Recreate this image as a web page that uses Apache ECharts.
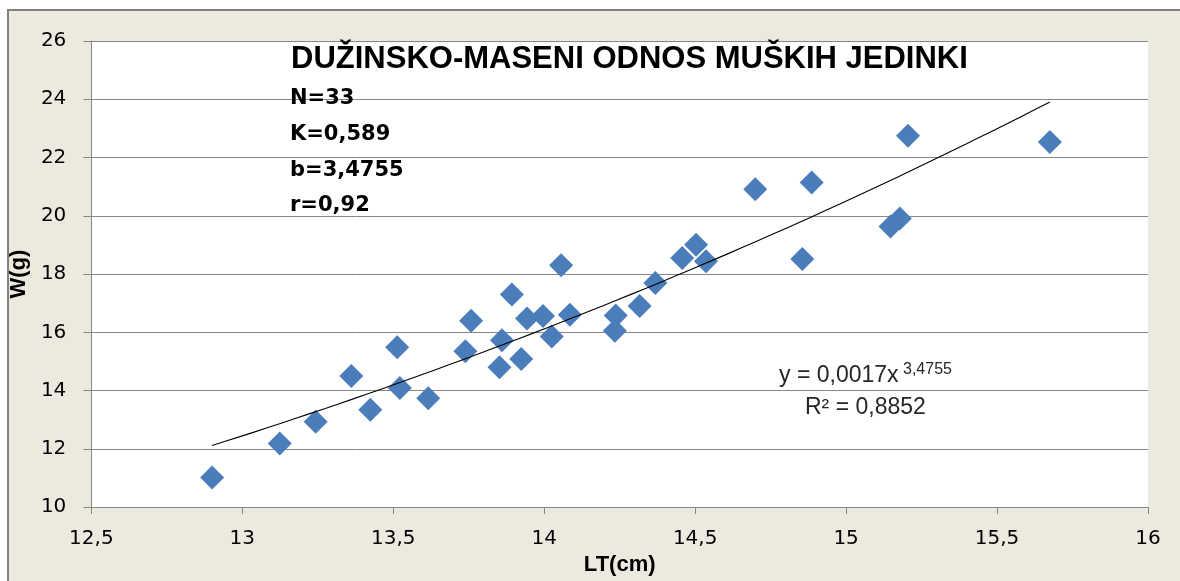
<!DOCTYPE html>
<html>
<head>
<meta charset="utf-8">
<script src="https://cdn.jsdelivr.net/npm/echarts@6/dist/echarts.min.js"></script>
<style>
html,body{margin:0;padding:0;background:#ffffff;}
#chart{width:1180px;height:581px;}
</style>
</head>
<body>
<div id="chart"></div>
<script>
// ---- data ----
const lengthsCm = [12.90, 13.124, 13.243, 13.361, 13.424, 13.513, 13.522, 13.616, 13.739, 13.758,
  13.852, 13.860, 13.893, 13.924, 13.943, 13.996, 14.025, 14.056, 14.085, 14.234,
  14.237, 14.316, 14.368, 14.457, 14.503, 14.536, 14.699, 14.855, 14.886, 15.147,
  15.178, 15.205, 15.675];
const weightsG = [11.02, 12.18, 12.93, 14.50, 13.34, 15.49, 14.09, 13.74, 15.35, 16.40,
  14.80, 15.73, 17.30, 15.08, 16.47, 16.56, 15.86, 18.30, 16.60, 16.05,
  16.58, 16.90, 17.69, 18.55, 19.01, 18.44, 20.91, 18.52, 21.14, 19.63,
  19.91, 22.75, 22.53];
const titleText = 'DUŽINSKO-MASENI ODNOS MUŠKIH JEDINKI';
const statLines = ['N=33', 'K=0,589', 'b=3,4755', 'r=0,92'];
const eqMain = 'y = 0,0017x';
const eqExp = '3,4755';
const eqR2 = 'R² = 0,8852';
const xAxisName = 'LT(cm)';
const yAxisName = 'W(g)';

// ---- power trendline fitted from the points (log-log least squares, as Excel does) ----
const points = lengthsCm.map((x, i) => [x, weightsG[i]]);
const lx = lengthsCm.map(Math.log), ly = weightsG.map(Math.log);
const n = lx.length;
const mx = lx.reduce((a, b) => a + b, 0) / n, my = ly.reduce((a, b) => a + b, 0) / n;
let sxy = 0, sxx = 0;
for (let i = 0; i < n; i++) { sxy += (lx[i] - mx) * (ly[i] - my); sxx += (lx[i] - mx) * (lx[i] - mx); }
const bFit = sxy / sxx, aFit = Math.exp(my - bFit * mx);
const xMin = Math.min(...lengthsCm), xMax = Math.max(...lengthsCm);
const trend = [];
for (let k = 0; k <= 60; k++) {
  const x = xMin + (xMax - xMin) * k / 60;
  trend.push([x, aFit * Math.pow(x, bFit)]);
}

const fmt = v => String(v).replace('.', ',');
const chart = echarts.init(document.getElementById('chart'));
chart.setOption({
  backgroundColor: '#ffffff',
  animation: false,
  grid: { left: 88, right: 32, top: 41, bottom: 70, show: true, backgroundColor: '#ffffff', borderWidth: 0 },
  xAxis: {
    type: 'value', min: 12.5, max: 16, interval: 0.5,
    name: xAxisName, nameLocation: 'middle', nameGap: 42,
    nameTextStyle: { fontFamily: 'Liberation Sans', fontWeight: 'bold', fontSize: 22, color: '#000' },
    axisLine: { show: true, lineStyle: { color: '#868686', width: 1 } },
    axisTick: { show: true, length: 7, lineStyle: { color: '#868686' } },
    axisLabel: { formatter: fmt, margin: 22, fontFamily: 'DejaVu Sans', fontSize: 20, color: '#000' },
    splitLine: { show: false }
  },
  yAxis: {
    type: 'value', min: 10, max: 26, interval: 2,
    name: yAxisName, nameLocation: 'middle', nameGap: 46,
    nameTextStyle: { fontFamily: 'Liberation Sans', fontWeight: 'bold', fontSize: 22, color: '#000' },
    axisLine: { show: true, lineStyle: { color: '#868686', width: 1 } },
    axisTick: { show: true, length: 8, lineStyle: { color: '#868686' } },
    axisLabel: { formatter: fmt, margin: 25, fontFamily: 'DejaVu Sans', fontSize: 20, color: '#000' },
    splitLine: { show: true, lineStyle: { color: '#868686', width: 1 } }
  },
  series: [
    {
      type: 'scatter', data: points, symbol: 'diamond', symbolSize: 24,
      itemStyle: { color: '#4A7DBA', opacity: 1 }, z: 2
    },
    {
      type: 'line', data: trend, showSymbol: false, smooth: false,
      lineStyle: { color: '#000', width: 1.1 }, z: 3
    }
  ],
  graphic: [
    { type: 'rect', z: -10, shape: { x: 8, y: 10, width: 1200, height: 600 },
      style: { fill: '#ECE9DF', stroke: '#808080', lineWidth: 2 } },
    { type: 'text', left: 291, top: 44, z: 10,
      style: { text: titleText, font: 'bold 31px "Liberation Sans"', fill: '#000' } },
    ...statLines.map((t, i) => ({ type: 'text', left: 290, top: 88 + i * 35.8, z: 10,
      style: { text: t, font: 'bold 21px "DejaVu Sans"', fill: '#000' } })),
    { type: 'text', left: 779, top: 364, z: 10,
      style: { text: eqMain, font: '23px "Liberation Sans"', fill: '#262626' } },
    { type: 'text', left: 903, top: 362, z: 10,
      style: { text: eqExp, font: '16px "Liberation Sans"', fill: '#262626' } },
    { type: 'text', left: 805, top: 396, z: 10,
      style: { text: eqR2, font: '23px "Liberation Sans"', fill: '#262626' } }
  ]
});
</script>
</body>
</html>
